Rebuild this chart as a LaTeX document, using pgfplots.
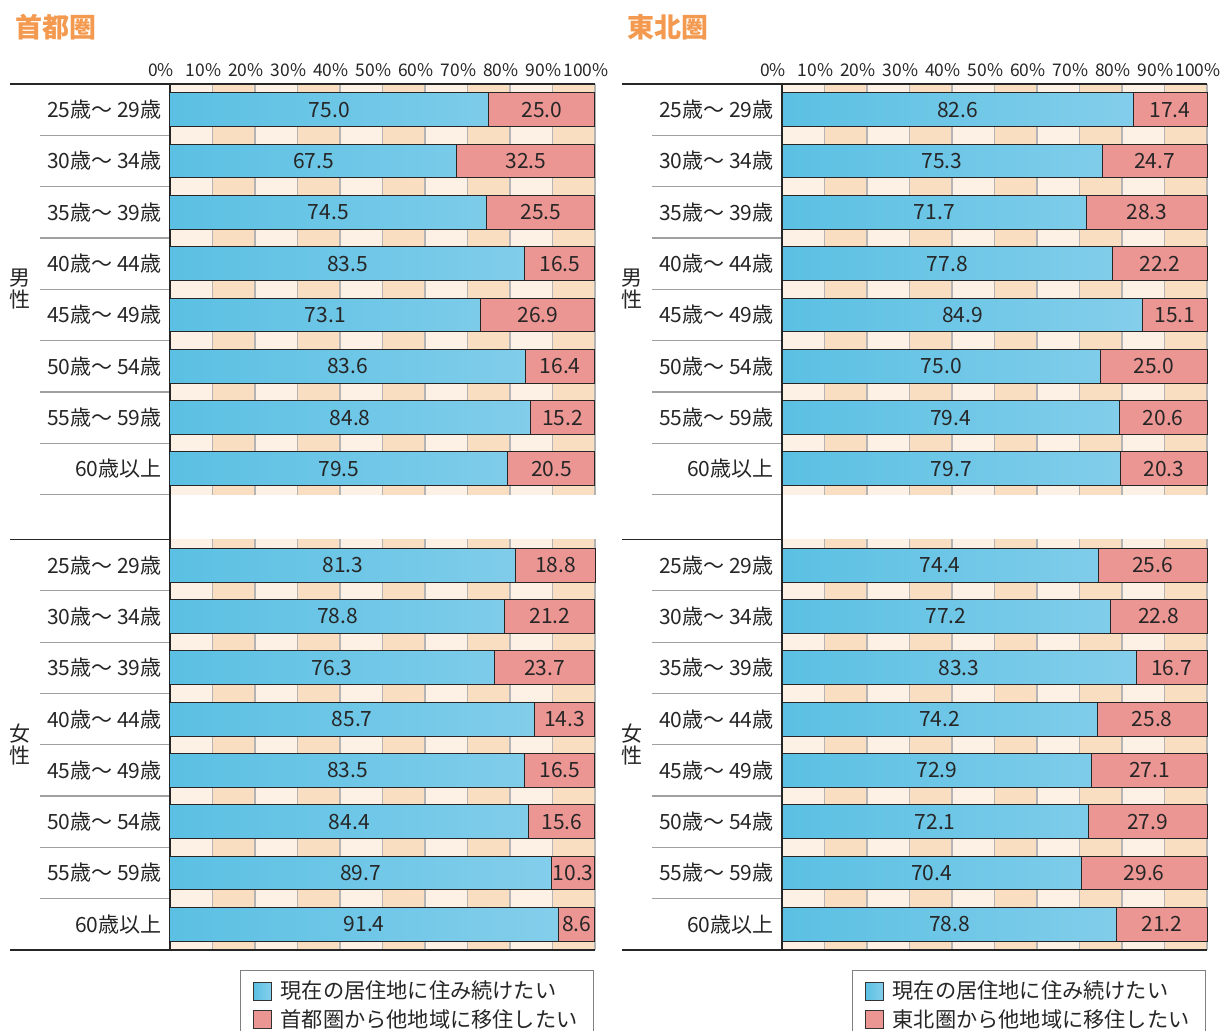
\documentclass[border=0pt]{standalone}
\usepackage{pgfplots}
\pgfplotsset{compat=1.18}
\usepackage{pgfplotstable}
\usepackage{fontspec}
\setmainfont{Noto Sans CJK JP}
\definecolor{bL}{HTML}{5BC0E3}
\definecolor{bR}{HTML}{84CEEB}
\definecolor{rM}{HTML}{EC9694}
\definecolor{stL}{HTML}{FDF1E5}
\definecolor{stD}{HTML}{F9DEC2}
\definecolor{grd}{HTML}{B4B4B4}
\definecolor{sep}{HTML}{A0A0A0}
\definecolor{ttl}{HTML}{F39A50}

\pgfplotstableread{
y a b
0.5 75.0 25.0
1.5 67.5 32.5
2.5 74.5 25.5
3.5 83.5 16.5
4.5 73.1 26.9
5.5 83.6 16.4
6.5 84.8 15.2
7.5 79.5 20.5
9.375 81.3 18.8
10.375 78.8 21.2
11.375 76.3 23.7
12.375 85.7 14.3
13.375 83.5 16.5
14.375 84.4 15.6
15.375 89.7 10.3
16.375 91.4 8.6
}\dataL

\pgfplotstableread{
y a b
0.5 82.6 17.4
1.5 75.3 24.7
2.5 71.7 28.3
3.5 77.8 22.2
4.5 84.9 15.1
5.5 75.0 25.0
6.5 79.4 20.6
7.5 79.7 20.3
9.375 74.4 25.6
10.375 77.2 22.8
11.375 83.3 16.7
12.375 74.2 25.8
13.375 72.9 27.1
14.375 72.1 27.9
15.375 70.4 29.6
16.375 78.8 21.2
}\dataR

\pgfplotsset{
  panel/.style={
    scale only axis, width=212.5pt, height=433pt, anchor=north west,
    xmin=0, xmax=100, ymin=0, ymax=16.875, y dir=reverse,
    axis line style={draw=none}, major tick length=0pt,
    xtick={0,10,...,100},
    xticklabels={0\%,10\%,20\%,30\%,40\%,50\%,60\%,70\%,80\%,90\%,100\%},
    xticklabel pos=upper,
    xticklabel style={font=\fontsize{8.7}{10}\selectfont, text=black!85, xshift=-4.5pt},
    ytick={0.5,1.5,2.5,3.5,4.5,5.5,6.5,7.5,9.375,10.375,11.375,12.375,13.375,14.375,15.375,16.375},
    yticklabels={25歳～ 29歳,30歳～ 34歳,35歳～ 39歳,40歳～ 44歳,45歳～ 49歳,50歳～ 54歳,55歳～ 59歳,60歳以上,25歳～ 29歳,30歳～ 34歳,35歳～ 39歳,40歳～ 44歳,45歳～ 49歳,50歳～ 54歳,55歳～ 59歳,60歳以上},
    yticklabel style={font=\fontsize{10.5}{12}\selectfont, text=black!85, anchor=east, inner sep=0pt, xshift=-4pt},
    clip=false,
    legend style={at={(0.1647,-0.0231)}, anchor=north west, draw=black!50, line width=0.6pt,
      font=\fontsize{10.6}{13}\selectfont, text=black!85, inner xsep=6pt, inner ysep=3pt, row sep=0pt},
    legend cell align=left,
  },
  barR/.style={xbar, bar width=0.66, bar shift=0pt, draw=black!85, line width=0.5pt, fill=rM, forget plot},
  barB/.style={xbar, bar width=0.66, bar shift=0pt, draw=black!85, line width=0.5pt, left color=bL, right color=bR, forget plot},
  lab/.style={draw=none, mark=none, forget plot, point meta=explicit,
    nodes near coords={\pgfmathprintnumber[fixed,fixed zerofill,precision=1,assume math mode=true]{\pgfplotspointmeta}},
    every node near coord/.append style={anchor=center, font=\fontsize{10.5}{12}\selectfont, text=black!85}},
}

\newcommand\panel[4]{%
\begin{axis}[panel, at={#1}]
  \fill[stL] (axis cs:0,0) rectangle (axis cs:100,8);
  \fill[stL] (axis cs:0,8.875) rectangle (axis cs:100,16.875);
  \pgfplotsinvokeforeach{10,30,50,70,90}{
    \fill[stD] (axis cs:##1,0) rectangle (axis cs:{##1+10},8);
    \fill[stD] (axis cs:##1,8.875) rectangle (axis cs:{##1+10},16.875);
  }
  \pgfplotsinvokeforeach{10,20,30,40,50,60,70,80,90,100}{
    \draw[grd, line width=0.6pt] (axis cs:##1,0) -- (axis cs:##1,8);
    \draw[grd, line width=0.6pt] (axis cs:##1,8.875) -- (axis cs:##1,16.875);
  }
  \pgfplotsinvokeforeach{1,2,3,4,5,6,7,8,9.875,10.875,11.875,12.875,13.875,14.875,15.875}{
    \draw[sep, line width=0.6pt] ([xshift=-65pt]axis cs:0,##1) -- (axis cs:0,##1);
  }
  \draw[black!85, line width=0.8pt] ([xshift=-80pt]axis cs:0,0) -- (axis cs:100,0);
  \draw[black!85, line width=0.8pt] ([xshift=-80pt]axis cs:0,8.875) -- (axis cs:0,8.875);
  \draw[black!85, line width=0.8pt] ([xshift=-80pt]axis cs:0,16.875) -- (axis cs:100,16.875);
  \draw[black!85, line width=0.6pt] (axis cs:0,0) -- (axis cs:0,16.875);
  \node[anchor=west, font=\fontsize{13.5}{15}\selectfont\bfseries, text=ttl, inner sep=0pt] at ([xshift=-77.5pt, yshift=28.5pt]axis cs:0,0) {#3};
  \node[align=center, font=\fontsize{10.5}{11}\selectfont, text=black!85, inner sep=0pt] at ([xshift=-75pt]axis cs:0,4) {男\\性};
  \node[align=center, font=\fontsize{10.5}{11}\selectfont, text=black!85, inner sep=0pt] at ([xshift=-75pt]axis cs:0,12.875) {女\\性};
  \addplot[barR] table[x expr=\thisrow{a}+\thisrow{b}, y=y] {#2};
  \addplot[barB] table[x=a, y=y] {#2};
  \addplot[lab] table[x expr=\thisrow{a}/2, y=y, meta=a] {#2};
  \addplot[lab] table[x expr=\thisrow{a}+\thisrow{b}/2, y=y, meta=b] {#2};
  \addlegendimage{legend image code/.code={\draw[black!80, line width=0.5pt, left color=bL, right color=bR] (0pt,-4.5pt) rectangle (9pt,4.5pt); \path (11.5pt,0pt);}}
  \addlegendentry{現在の居住地に住み続けたい}
  \addlegendimage{legend image code/.code={\draw[black!80, line width=0.5pt, fill=rM] (0pt,-4.5pt) rectangle (9pt,4.5pt); \path (11.5pt,0pt);}}
  \addlegendentry{#4}
\end{axis}}

\begin{document}
\begin{tikzpicture}
\panel{(0pt,0pt)}{\dataL}{首都圏}{首都圏から他地域に移住したい}
\panel{(306pt,0pt)}{\dataR}{東北圏}{東北圏から他地域に移住したい}
\pgfresetboundingbox
\path[use as bounding box] (-85pt,42pt) rectangle (526pt,-473pt);
\end{tikzpicture}
\end{document}
